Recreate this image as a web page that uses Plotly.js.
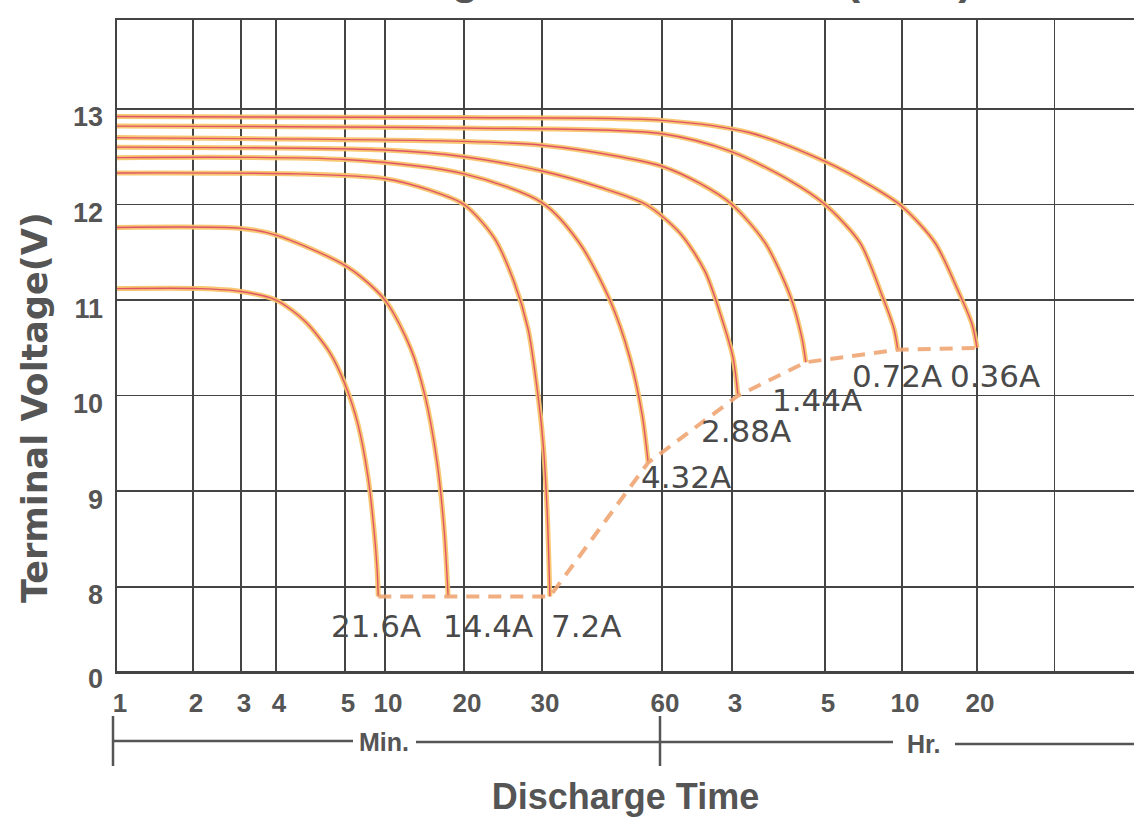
<!DOCTYPE html>
<html><head><meta charset="utf-8">
<script src="https://cdn.plot.ly/plotly-3.0.1.min.js"></script>
<style>html,body{margin:0;padding:0;background:#fff}</style>
</head><body>
<div id="chart" style="width:1134px;height:817px"></div>
<script>
// ---- data (discharge time in minutes, terminal voltage in V) ----
const tickMinutes = [1, 2, 3, 4, 5, 10, 20, 30, 60, 180, 300, 600, 1200];
const tickLabels  = ['1','2','3','4','5','10','20','30','60','3','5','10','20'];
const yTickVals   = [8, 9, 10, 11, 12, 13];

const seriesNames = ['0.36A','0.72A','1.44A','2.88A','4.32A','7.2A','14.4A','21.6A'];

const t036 = [1, 20, 60, 198.7, 300, 449.8, 600, 813.8, 1007, 1146, 1200];
const v036 = [12.92, 12.91, 12.88, 12.75, 12.45, 12.2, 11.98, 11.6, 11.1, 10.75, 10.5];

const t072 = [1, 20, 60, 180, 247.5, 300, 411, 501, 558, 578];
const v072 = [12.82, 12.8, 12.74, 12.55, 12.25, 12.0, 11.6, 11.05, 10.7, 10.48];

const t144 = [1, 20, 30, 47.1, 60, 108.9, 180, 215.8, 247.5, 264.4, 270];
const v144 = [12.7, 12.66, 12.62, 12.5, 12.4, 12.22, 12.0, 11.6, 11.05, 10.6, 10.35];

const t288 = [1, 10, 20, 30, 41.9, 54.7, 79.6, 117.8, 153.9, 181, 186];
const v288 = [12.6, 12.57, 12.5, 12.35, 12.18, 12.0, 11.7, 11.3, 10.8, 10.4, 10.0];

const t432 = [1, 5, 20, 30, 37.2, 44.4, 49.8, 53.5, 55.4];
const v432 = [12.49, 12.47, 12.32, 12.02, 11.6, 11.0, 10.4, 9.8, 9.3];

const t72  = [1, 4.3, 10, 14.8, 20, 23.4, 25.9, 27.9, 29.2, 30.2, 30.9, 31.2, 31.4];
const v72  = [12.33, 12.32, 12.27, 12.15, 12.0, 11.65, 11.2, 10.7, 10.1, 9.5, 8.8, 8.3, 7.9];

const t144a = [1, 3, 4, 5.17, 10, 12.5, 14.2, 15.8, 16.8, 17.4];
const v144a = [11.76, 11.75, 11.68, 11.35, 11.0, 10.5, 10.0, 9.3, 8.6, 7.9];

const t216 = [1, 2.12, 3, 4.0, 4.39, 4.76, 5.0, 6.26, 7.45, 8.26, 8.71, 8.9];
const v216 = [11.12, 11.12, 11.09, 11.0, 10.78, 10.45, 10.12, 9.7, 9.15, 8.6, 8.2, 7.9];

const seriesT = [t036, t072, t144, t288, t432, t72, t144a, t216];
const seriesV = [v036, v072, v144, v288, v432, v72, v144a, v216];

// ---- axis geometry of the printed (non-uniform) time scale ----
const axisTickPos = [0, 0.76, 1.24, 1.59, 2.28, 2.68, 3.47, 4.25, 5.45, 6.15, 7.08, 7.85, 8.60];
const extraGridPos = 9.375;
const yBreakPos = 7.12;   // where the printed "0" sits (axis break)

function toAxis(m) {
  const n = tickMinutes.length;
  let i = 0;
  if (m >= tickMinutes[n - 1]) i = n - 2;
  else { while (i < n - 2 && m > tickMinutes[i + 1]) i++; }
  const f = Math.log(m / tickMinutes[i]) / Math.log(tickMinutes[i + 1] / tickMinutes[i]);
  return axisTickPos[i] + f * (axisTickPos[i + 1] - axisTickPos[i]);
}

const traces = [];
seriesT.forEach((t, k) => {
  const x = t.map(toAxis);
  traces.push({x: x, y: seriesV[k], type: 'scatter', mode: 'lines', name: seriesNames[k],
    line: {color: 'rgba(248,196,105,0.95)', width: 5, shape: 'spline', smoothing: 0.8},
    hoverinfo: 'skip', showlegend: false});
  traces.push({x: x, y: seriesV[k], type: 'scatter', mode: 'lines', name: seriesNames[k],
    line: {color: '#e0546a', width: 1.4, shape: 'spline', smoothing: 0.8},
    showlegend: false});
});
// end-of-discharge dashed line through the curve end points
const endX = [], endY = [];
for (let k = seriesT.length - 1; k >= 0; k--) {
  endX.push(toAxis(seriesT[k][seriesT[k].length - 1]));
  endY.push(seriesV[k][seriesV[k].length - 1]);
}
traces.push({x: endX, y: endY, type: 'scatter', mode: 'lines', name: 'end voltage',
  line: {color: 'rgba(240,165,115,0.9)', width: 4, dash: '13px,9px'}, showlegend: false});

// labels near end points
const labelPos = {
  '21.6A': [2.59, 7.59], '14.4A': [3.71, 7.59], '7.2A': [4.69, 7.59],
  '4.32A': [5.69, 9.15], '2.88A': [6.29, 9.63], '1.44A': [7.00, 9.96],
  '0.72A': [7.80, 10.21], '0.36A': [8.78, 10.21]
};
const labelFont = {family: 'DejaVu Sans, sans-serif', size: 31, color: '#4a4a4a'};
const annotations = seriesNames.map(nm => ({
  x: labelPos[nm][0], y: labelPos[nm][1], xref: 'x', yref: 'y', text: nm, showarrow: false,
  font: labelFont
}));
const pxX = px => (px - 117) / 1017;
const pxY = py => (671 - py) / 651;
const boldFont = (size, fam) => ({family: fam || 'Liberation Sans, Arial, sans-serif', size: size, color: '#555', weight: 'bold'});
annotations.push({x: pxX(384), y: pxY(742), xref: 'paper', yref: 'paper', xanchor: 'center', yanchor: 'middle',
  text: 'Min.', showarrow: false, font: boldFont(25)});
annotations.push({x: pxX(923), y: pxY(744), xref: 'paper', yref: 'paper', xanchor: 'center', yanchor: 'middle',
  text: 'Hr.', showarrow: false, font: boldFont(25)});
// y-axis title (placed like the printed one, below the plot centre)
annotations.push({x: pxX(35), y: pxY(408), xref: 'paper', yref: 'paper', xanchor: 'center', yanchor: 'middle',
  text: 'Terminal Voltage(V)', textangle: -90, showarrow: false, font: boldFont(35, 'DejaVu Sans, sans-serif')});

const lineStyle = {color: '#555', width: 2.5};
const shapes = [
  {type: 'line', xref: 'paper', yref: 'paper', x0: pxX(113), x1: pxX(353), y0: pxY(741), y1: pxY(741), line: lineStyle},
  {type: 'line', xref: 'paper', yref: 'paper', x0: pxX(416), x1: pxX(893), y0: pxY(742), y1: pxY(742), line: lineStyle},
  {type: 'line', xref: 'paper', yref: 'paper', x0: pxX(955), x1: 1, y0: pxY(744), y1: pxY(744), line: lineStyle},
  {type: 'line', xref: 'paper', yref: 'paper', x0: pxX(113), x1: pxX(113), y0: pxY(716), y1: pxY(766), line: lineStyle},
  {type: 'line', xref: 'paper', yref: 'paper', x0: pxX(660), x1: pxX(660), y0: pxY(716), y1: pxY(766), line: lineStyle}
];

const gridColor = '#444';
const layout = {
  width: 1134, height: 817,
  margin: {l: 117, r: 0, t: 20, b: 146},
  paper_bgcolor: '#fff', plot_bgcolor: '#fff',
  title: {text: 'Discharge Characteristics (25°C)', x: 0.557, xanchor: 'center',
    yref: 'paper', y: 1, yanchor: 'bottom', pad: {b: 26},
    font: boldFont(44)},
  xaxis: {
    range: [0, 10.17], tickmode: 'array',
    tickvals: axisTickPos.concat([extraGridPos]), ticktext: tickLabels.concat(['']),
    showgrid: true, gridcolor: gridColor, gridwidth: 1.6, zeroline: false,
    showline: true, linecolor: gridColor, linewidth: 2.5, mirror: true, ticks: '',
    ticklabelstandoff: 7, ticklabelshift: 3,
    tickfont: boldFont(26),
    title: {text: 'Discharge Time', standoff: 70, font: boldFont(36)}
  },
  yaxis: {
    range: [yBreakPos, 13.93], tickmode: 'array',
    tickvals: [yBreakPos].concat(yTickVals), ticktext: ['0'].concat(yTickVals.map(String)),
    showgrid: true, gridcolor: gridColor, gridwidth: 1.6, zeroline: false,
    showline: true, linecolor: gridColor, linewidth: 2.5, mirror: false, ticks: '',
    ticklabelstandoff: 6, ticklabelshift: 8,
    tickfont: boldFont(27)
  },
  annotations: annotations, shapes: shapes, showlegend: false
};
Plotly.newPlot('chart', traces, layout, {displayModeBar: false, staticPlot: true});
</script>
</body></html>
